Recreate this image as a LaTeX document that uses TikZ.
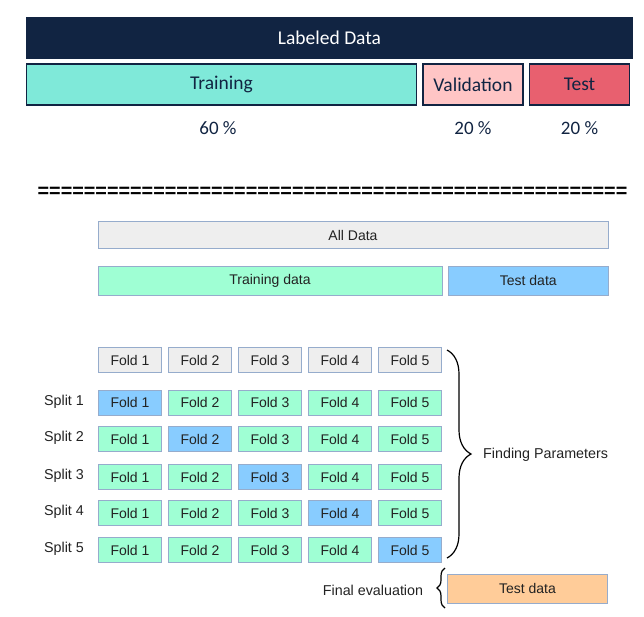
\documentclass[tikz,border=0pt]{standalone}
\usepackage{fontspec}
\setmainfont{Liberation Sans}
\newfontfamily\calibri{Carlito}
\usetikzlibrary{positioning,decorations.pathreplacing}
\definecolor{navy}{RGB}{17,36,66}
\definecolor{turq}{RGB}{127,233,217}
\definecolor{valpink}{RGB}{255,197,197}
\definecolor{testred}{RGB}{232,96,111}
\definecolor{allgray}{RGB}{238,238,238}
\definecolor{mint}{RGB}{159,255,212}
\definecolor{skyblue}{RGB}{136,204,255}
\definecolor{peach}{RGB}{255,204,153}
\definecolor{cellborder}{RGB}{150,172,204}
\definecolor{ink}{RGB}{34,34,34}

\begin{document}
\begin{tikzpicture}[x=1pt, y=-1pt, inner sep=0pt]
    \tikzstyle{split box}=[rectangle, draw=navy, line width=1.5pt, text=navy, minimum height=41pt, font=\calibri\fontsize{19.5}{22}\selectfont]
    \tikzstyle{pct}=[text=navy, font=\calibri\fontsize{19}{22}\selectfont]
    \tikzstyle{cell}=[rectangle, draw=cellborder, line width=0.8pt, text=ink, minimum height=28pt, font=\fontsize{14}{16}\selectfont]
    \tikzstyle{fold}=[cell, minimum width=63pt, minimum height=25pt]
    \tikzstyle{lab}=[text=ink, font=\fontsize{14.3}{16}\selectfont]
    \tikzstyle{curly}=[draw=black, line width=1.2pt, decorate]

    \useasboundingbox (0,0) rectangle (644,616);

    % Top: labeled data split
    \node[split box, draw=none, fill=navy, text=white, minimum width=607pt, minimum height=42pt] (Labeled) at (329.5,38) {Labeled Data};
    \node[split box, fill=turq, minimum width=390pt] (Training) at (221.5,84.5) {Training};
    \node[split box, fill=valpink, minimum width=100pt, right=5pt of Training] (Validation) {Validation};
    \node[split box, fill=testred, minimum width=100pt, right=5pt of Validation] (Test) {Test};
    \node[pct] (P-Train) at (218,128) {60 \%};
    \node[pct] (P-Val) at (Validation |- P-Train) {20 \%};
    \node[pct] (P-Test) at (Test |- P-Train) {20 \%};

    \node[font=\bfseries\fontsize{19.8}{20}\selectfont] (Sep) at (332.5,192) {===================================================};

    % Bottom: cross validation
    \node[cell, fill=allgray, minimum width=510pt, minimum height=27pt] (All) at (353,235) {All Data};
    \node[cell, fill=mint, minimum width=344pt, minimum height=29pt] (Train-Data) at (270,280.5) {Training data};
    \node[cell, fill=skyblue, minimum width=160pt, minimum height=29pt, right=5.5pt of Train-Data] (Test-Data) {Test data};

    \foreach \c in {1,...,5}
        \node[fold, fill=allgray] (H\c) at (60+70*\c,360) {Fold \c};

    \foreach \r/\y in {1/402.5, 2/439, 3/477, 4/513, 5/550} {
        \node[lab] (S\r) at (64,\y-1) {Split \r};
        \foreach \c in {1,...,5} {
            \ifnum\c=\r \def\fc{skyblue}\else\def\fc{mint}\fi
            \node[fold, fill=\fc] (F\r-\c) at (60+70*\c,\y) {Fold \c};
        }
    }

    \coordinate (Brace-Top) at (447,350);
    \coordinate (Brace-Bottom) at (447,558);
    \draw[curly, decoration={brace, amplitude=24pt}] (Brace-Top) -- (Brace-Bottom);
    \node[lab, anchor=west] (Finding) at (483,455) {Finding Parameters};

    \node[cell, fill=peach, minimum width=160pt, minimum height=29pt] (Final-Test) at (527.5,588.5) {Test data};
    \coordinate (Eval-Bottom) at (445,608);
    \coordinate (Eval-Top) at (445,568);
    \draw[curly, decoration={brace, amplitude=8pt}] (Eval-Bottom) -- (Eval-Top);
    \node[lab] (Final) at (373,590) {Final evaluation};

\end{tikzpicture}
\end{document}
